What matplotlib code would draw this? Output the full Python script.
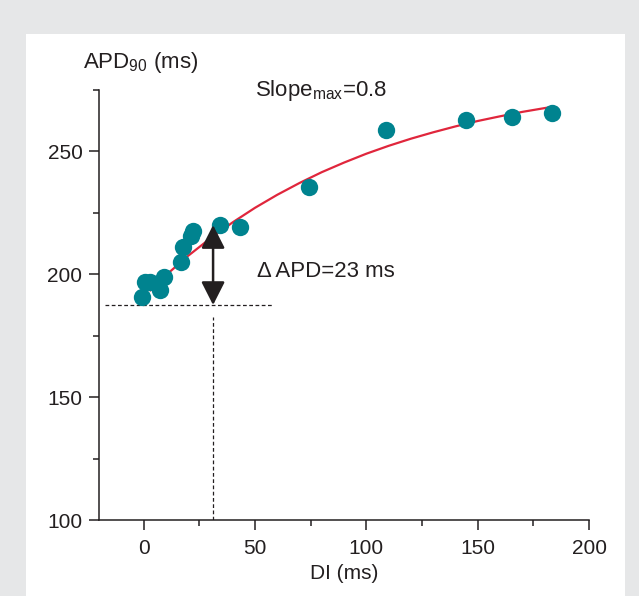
import matplotlib
matplotlib.use('Agg')
import matplotlib.pyplot as plt
import numpy as np

plt.rcParams['font.family'] = ['Liberation Sans', 'DejaVu Sans']
plt.rcParams['mathtext.fontset'] = 'custom'
plt.rcParams['mathtext.rm'] = 'Liberation Sans'
plt.rcParams['mathtext.it'] = 'Liberation Sans:italic'

# measured points (DI, APD90)
di = [-0.8, 0.7, 2.9, 7.4, 9.3, 16.8, 17.9, 21.5, 22.1, 34.3, 43.3, 74.4, 108.9, 144.8, 165.3, 183.3]
apd = [190.8, 196.9, 196.9, 193.5, 198.9, 205.0, 211.0, 215.5, 217.3, 219.9, 219.2, 235.5, 258.5, 262.6, 263.7, 265.3]

# fitted restitution curve
curve_di = [3, 10, 20, 30, 40, 50, 60, 70, 80, 90, 100, 110, 120, 130, 140, 150, 160, 170, 183]
curve_apd = [193.4, 199.5, 207.4, 214.5, 221.0, 226.9, 232.2, 237.0, 241.4, 245.3, 248.9,
             252.1, 255.0, 257.6, 260.0, 262.2, 264.1, 265.9, 267.9]

# delta APD annotation
di_mark = 31.2
apd_low = 187.4
apd_high = 219.9

teal = '#00838f'
red = '#e0263c'
ink = '#231f20'

fig = plt.figure(figsize=(6.39, 5.96), dpi=100, facecolor='#e6e7e8')
fig.patches.append(plt.Rectangle((0.0407, 0.0), 0.9374, 0.943, transform=fig.transFigure,
                                 facecolor='white', edgecolor='none', zorder=-5))

ax = fig.add_axes([0.155, 0.1275, 0.7668, 0.7223])
ax.set_facecolor('none')

ax.plot(curve_di, curve_apd, color=red, lw=1.6, zorder=2)
ax.plot(di, apd, 'o', color=teal, ms=12.5, mec='none', zorder=3)

# dotted guide lines
ax.plot([-17.2, 58.1], [apd_low, apd_low], color=ink, lw=0.9, ls=(0, (3, 2)), zorder=1)
ax.plot([di_mark, di_mark], [100, 182.6], color=ink, lw=0.9, ls=(0, (3, 2)), zorder=1)

ax.annotate('', xy=(di_mark, apd_high), xytext=(di_mark, apd_low),
            arrowprops=dict(arrowstyle='<|-|>,head_length=0.75,head_width=0.38',
                            color=ink, lw=1.8, shrinkA=0, shrinkB=0, mutation_scale=19), zorder=4)

ax.text(51, 201.2, '\u0394 APD=23 ms', fontsize=16, color=ink, va='center', ha='left')
ax.text(50, 274.8, r'Slope$_{\mathrm{max}}$=0.8', fontsize=16, color=ink, va='center', ha='left')

ax.set_xlim(-20, 200)
ax.set_ylim(100, 275)
ax.set_xticks([0, 50, 100, 150, 200])
ax.set_xticks([25, 75, 125, 175], minor=True)
ax.set_yticks([100, 150, 200, 250])
ax.set_yticks([125, 175, 225, 275], minor=True)

for s in ['top', 'right']:
    ax.spines[s].set_visible(False)
for s in ['left', 'bottom']:
    ax.spines[s].set_linewidth(1.1)
    ax.spines[s].set_color(ink)

ax.tick_params(which='major', length=7, width=1.1, color=ink, labelsize=15, labelcolor=ink)
ax.tick_params(axis='x', which='major', pad=7)
ax.tick_params(axis='y', which='major', pad=5)
ax.tick_params(which='minor', length=4, width=1.1, color=ink)

ax.set_xlabel('DI (ms)', fontsize=15, color=ink, labelpad=4)
fig.text(0.13, 0.895, r'APD$_{90}$ (ms)', fontsize=16, color=ink, ha='left', va='center')

fig.savefig('out.png', dpi=100, facecolor=fig.get_facecolor())
